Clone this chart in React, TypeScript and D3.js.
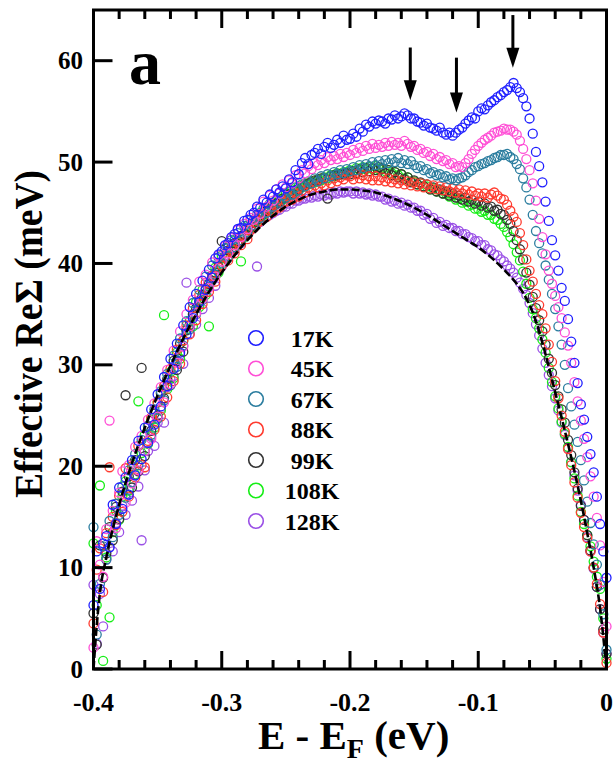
import React from 'react';
import * as d3 from 'd3';

// Energy axis (eV)
const ENERGY = [
  -0.4, -0.3975, -0.395, -0.3925, -0.39, -0.3875, -0.385, -0.3825, -0.38, -0.3775,
  -0.375, -0.3725, -0.37, -0.3675, -0.365, -0.3625, -0.36, -0.3575, -0.355, -0.3525,
  -0.35, -0.3475, -0.345, -0.3425, -0.34, -0.3375, -0.335, -0.3325, -0.33, -0.3275,
  -0.325, -0.3225, -0.32, -0.3175, -0.315, -0.3125, -0.31, -0.3075, -0.305, -0.3025,
  -0.3, -0.2975, -0.295, -0.2925, -0.29, -0.2875, -0.285, -0.2825, -0.28, -0.2775,
  -0.275, -0.2725, -0.27, -0.2675, -0.265, -0.2625, -0.26, -0.2575, -0.255, -0.2525,
  -0.25, -0.2475, -0.245, -0.2425, -0.24, -0.2375, -0.235, -0.2325, -0.23, -0.2275,
  -0.225, -0.2225, -0.22, -0.2175, -0.215, -0.2125, -0.21, -0.2075, -0.205, -0.2025,
  -0.2, -0.1975, -0.195, -0.1925, -0.19, -0.1875, -0.185, -0.1825, -0.18, -0.1775,
  -0.175, -0.1725, -0.17, -0.1675, -0.165, -0.1625, -0.16, -0.1575, -0.155, -0.1525,
  -0.15, -0.1475, -0.145, -0.1425, -0.14, -0.1375, -0.135, -0.1325, -0.13, -0.1275,
  -0.125, -0.1225, -0.12, -0.1175, -0.115, -0.1125, -0.11, -0.1075, -0.105, -0.1025,
  -0.1, -0.0975, -0.095, -0.0925, -0.09, -0.0875, -0.085, -0.0825, -0.08, -0.0775,
  -0.075, -0.0725, -0.07, -0.0675, -0.065, -0.0625, -0.06, -0.0575, -0.055, -0.0525,
  -0.05, -0.0475, -0.045, -0.0425, -0.04, -0.0375, -0.035, -0.0325, -0.03, -0.0275,
  -0.025, -0.0225, -0.02, -0.0175, -0.015, -0.0125, -0.01, -0.0075, -0.005, -0.0025,
  0,
];

// Effective ReΣ (meV) per temperature
const T17K = [
  6.3, 11.6, 7.9, 12.4, 13.1, 12.0, 16.2, 14.3, 17.9, 15.8,
  18.9, 17.2, 20.6, 19.1, 22.5, 20.7, 23.8, 22.3, 25.6, 24.1,
  27.1, 25.9, 28.8, 27.9, 30.6, 29.6, 32.1, 31.2, 33.9, 33.0,
  35.7, 34.6, 37.0, 36.2, 38.3, 37.4, 39.4, 38.6, 40.5, 40.9,
  41.2, 41.8, 42.0, 42.6, 42.9, 43.4, 43.5, 44.2, 44.3, 44.8,
  45.0, 45.6, 45.5, 46.3, 46.0, 46.8, 46.6, 47.3, 47.0, 47.6,
  47.4, 48.3, 48.0, 49.2, 48.8, 49.9, 50.4, 49.8, 50.7, 50.9,
  51.3, 50.8, 51.5, 51.9, 51.4, 51.7, 52.2, 51.9, 52.6, 52.2,
  52.3, 52.8, 52.5, 53.3, 53.0, 53.7, 53.5, 54.0, 53.8, 54.1,
  54.0, 53.8, 54.3, 54.2, 54.6, 54.3, 54.5, 54.8, 54.6, 54.3,
  54.3, 54.0, 53.9, 53.6, 53.8, 53.4, 53.3, 53.1, 53.4, 52.9,
  52.7, 52.9, 52.6, 52.9, 53.2, 53.4, 53.8, 54.1, 54.4, 54.3,
  55.0, 55.3, 55.2, 55.6, 55.9, 56.1, 56.4, 56.6, 56.9, 57.1,
  57.4, 57.8, 57.3, 56.9, 56.3, 55.5, 54.3, 52.8, 51.0, 49.6,
  48.0, 46.1, 44.2, 42.3, 40.8, 39.3, 37.6, 36.3, 34.5, 32.3,
  30.2, 28.2, 26.1, 24.6, 22.9, 21.2, 19.4, 17.0, 14.3, 11.6,
  9.0,
];
const T45K = [
  2.1, 12.6, 10.3, 9.1, 13.8, 24.5, 15.6, 13.9, 17.4, 19.5,
  16.4, 20.1, 18.3, 21.9, 19.6, 23.0, 21.5, 24.6, 22.7, 26.2,
  24.9, 27.8, 26.3, 29.5, 28.1, 31.4, 30.2, 33.3, 31.8, 35.0,
  33.8, 36.4, 35.1, 38.2, 36.5, 38.9, 37.6, 40.1, 38.7, 40.8,
  40.2, 41.7, 41.0, 42.5, 41.8, 43.3, 42.6, 43.9, 43.4, 44.5,
  44.3, 45.4, 44.9, 46.1, 45.6, 46.7, 46.2, 47.3, 46.9, 47.8,
  47.5, 48.2, 47.9, 48.7, 48.4, 49.2, 48.9, 49.6, 49.3, 49.9,
  49.7, 50.2, 49.9, 50.5, 50.2, 50.6, 50.3, 50.8, 50.5, 50.9,
  50.7, 51.2, 50.9, 51.4, 51.1, 51.6, 51.3, 51.8, 51.4, 51.7,
  51.5, 51.9, 51.6, 52.0, 51.7, 51.9, 51.6, 52.1, 51.8, 51.5,
  51.6, 51.2, 51.3, 50.9, 51.0, 50.6, 50.8, 50.3, 50.5, 50.1,
  50.2, 49.8, 49.9, 49.5, 49.6, 49.5, 49.9, 50.3, 50.8, 51.2,
  51.6, 51.9, 52.2, 52.4, 52.6, 52.9, 53.0, 53.1, 53.3, 53.2,
  53.2, 53.0, 52.7, 52.1, 51.3, 50.3, 49.2, 47.9, 46.2, 44.4,
  42.6, 40.9, 39.3, 38.0, 36.8, 35.7, 34.6, 33.2, 31.9, 30.2,
  28.3, 26.4, 24.5, 22.7, 20.9, 19.0, 17.0, 14.9, 12.2, 8.6,
  4.2,
];
const T67K = [
  14.0, 3.4, 8.4, 12.1, 10.8, 14.6, 13.0, 16.3, 15.2, 18.0,
  16.9, 19.6, 18.4, 21.2, 20.1, 22.6, 21.5, 24.0, 23.1, 25.6,
  24.7, 27.4, 26.5, 29.1, 28.0, 30.9, 29.8, 32.6, 31.9, 34.3,
  33.5, 36.1, 35.0, 37.4, 36.4, 38.7, 37.7, 39.8, 38.9, 40.6,
  40.0, 41.5, 40.7, 42.3, 41.6, 43.0, 42.3, 43.7, 43.1, 44.3,
  43.8, 44.8, 44.5, 45.4, 45.0, 45.9, 45.6, 46.3, 46.0, 46.7,
  46.5, 47.1, 46.8, 47.5, 47.2, 47.8, 47.6, 48.1, 47.9, 48.4,
  48.1, 48.6, 48.4, 48.8, 48.6, 49.0, 48.8, 49.2, 48.9, 49.3,
  49.1, 49.5, 49.2, 49.7, 49.4, 49.8, 49.6, 50.0, 49.7, 50.1,
  49.8, 50.2, 49.9, 50.3, 50.0, 50.4, 49.9, 50.2, 49.8, 50.1,
  49.7, 49.4, 49.6, 49.2, 49.3, 48.9, 49.0, 48.7, 48.8, 48.5,
  48.6, 48.3, 48.4, 48.2, 48.4, 48.5, 48.7, 49.0, 49.2, 49.5,
  49.6, 49.8, 49.9, 50.1, 50.2, 50.4, 50.5, 50.7, 50.7, 50.8,
  50.5, 50.3, 49.8, 49.3, 48.4, 47.5, 46.3, 44.8, 43.2, 42.0,
  41.0, 39.8, 38.4, 37.0, 35.5, 33.8, 32.0, 30.0, 27.7, 25.9,
  24.1, 22.4, 20.6, 18.6, 16.5, 14.4, 12.3, 10.3, 8.3, 5.4,
  1.9,
];
const T88K = [
  4.5, 9.8, 11.9, 7.6, 13.4, 19.9, 15.0, 14.2, 17.1, 15.5,
  19.8, 17.0, 20.0, 18.9, 22.0, 20.1, 19.9, 22.5, 24.8, 23.6,
  26.3, 24.9, 27.9, 26.8, 29.6, 28.4, 31.5, 30.1, 32.4, 33.9,
  33.0, 35.6, 34.4, 36.9, 36.0, 38.1, 37.2, 38.8, 38.2, 39.6,
  39.8, 40.6, 40.3, 41.4, 41.0, 42.1, 41.8, 42.7, 42.4, 43.3,
  43.5, 43.9, 44.2, 44.6, 44.6, 45.2, 45.1, 45.6, 45.5, 46.0,
  46.1, 46.5, 46.3, 46.9, 46.6, 47.2, 47.0, 47.5, 47.2, 47.7,
  47.5, 47.9, 47.7, 48.2, 47.9, 48.4, 48.1, 48.5, 48.3, 48.7,
  48.6, 48.3, 48.8, 48.4, 48.7, 48.3, 48.6, 48.2, 48.6, 48.2,
  48.5, 48.1, 48.4, 48.0, 48.3, 47.9, 48.2, 47.8, 48.1, 47.7,
  48.0, 47.6, 47.9, 47.5, 47.8, 47.4, 47.7, 47.3, 47.6, 47.2,
  47.5, 47.1, 47.4, 47.0, 47.3, 46.9, 47.2, 46.8, 47.1, 46.7,
  46.9, 46.6, 46.9, 46.5, 46.8, 47.0, 46.7, 46.4, 46.3, 45.8,
  45.2, 44.6, 44.1, 43.0, 41.8, 40.4, 39.3, 38.2, 37.0, 35.9,
  35.0, 33.6, 32.0, 30.3, 28.4, 26.7, 25.0, 23.4, 21.7, 20.1,
  18.4, 16.9, 15.4, 14.0, 12.9, 11.6, 10.0, 8.4, 6.4, 3.6,
  0.6,
];
const T99K = [
  5.5, 2.4, 12.2, 9.0, 11.4, 14.0, 12.7, 16.0, 14.8, 17.5,
  27.0, 19.0, 17.9, 20.6, 19.5, 29.7, 21.0, 23.9, 23.5, 25.2,
  25.0, 27.2, 26.7, 28.6, 28.0, 30.4, 29.5, 32.1, 31.3, 33.4,
  33.9, 35.0, 35.6, 36.3, 36.9, 37.5, 38.0, 38.8, 39.1, 39.7,
  42.2, 40.6, 41.3, 41.4, 42.0, 42.2, 42.7, 42.9, 43.4, 43.6,
  44.0, 44.3, 44.6, 44.9, 45.2, 45.4, 45.7, 45.9, 46.1, 46.4,
  46.5, 46.8, 46.9, 47.2, 47.3, 47.6, 47.7, 47.9, 48.0, 48.2,
  48.2, 48.4, 48.4, 46.4, 48.6, 48.7, 48.7, 48.8, 48.8, 48.9,
  48.8, 49.1, 48.9, 49.3, 49.0, 49.4, 49.1, 49.4, 49.2, 49.5,
  49.3, 48.9, 49.2, 48.7, 49.0, 48.5, 48.8, 48.3, 48.5, 48.0,
  48.2, 47.8, 48.0, 47.6, 47.8, 47.3, 47.5, 47.1, 47.3, 46.9,
  47.1, 46.7, 46.9, 46.5, 46.7, 46.3, 46.5, 46.1, 46.3, 45.9,
  46.1, 45.7, 45.9, 45.5, 45.6, 45.2, 45.3, 44.9, 44.8, 44.3,
  43.9, 43.2, 42.3, 41.4, 40.4, 39.1, 37.9, 36.7, 35.6, 34.4,
  33.3, 32.0, 30.6, 29.2, 28.0, 26.9, 25.6, 24.3, 22.6, 21.1,
  19.4, 17.8, 16.1, 14.7, 13.2, 11.7, 10.0, 8.1, 5.9, 3.9,
  1.5,
];
const T108K = [
  12.4, 6.3, 18.1, 0.8, 11.0, 5.1, 13.5, 15.6, 14.7, 17.0,
  18.5, 17.6, 20.2, 19.2, 26.4, 21.3, 23.1, 22.2, 24.6, 23.8,
  26.3, 25.5, 34.9, 27.6, 29.3, 28.7, 31.2, 30.6, 32.4, 33.5,
  34.3, 33.8, 36.2, 35.7, 37.4, 36.9, 33.8, 38.6, 39.6, 39.1,
  40.8, 40.5, 41.6, 41.2, 42.3, 41.9, 40.2, 42.6, 43.7, 43.5,
  44.3, 44.2, 45.0, 44.8, 45.5, 45.3, 46.0, 45.9, 46.4, 46.3,
  46.9, 46.8, 47.3, 47.1, 47.6, 47.5, 47.9, 47.8, 48.1, 48.0,
  48.3, 48.2, 48.5, 48.4, 48.7, 48.6, 48.9, 48.8, 49.0, 49.0,
  49.2, 49.1, 49.4, 49.2, 49.5, 49.3, 49.5, 49.3, 49.6, 49.3,
  49.4, 49.1, 49.2, 48.9, 49.0, 48.7, 48.8, 48.4, 48.5, 48.1,
  48.1, 47.8, 47.9, 47.6, 47.6, 47.3, 47.4, 47.1, 47.2, 46.9,
  46.9, 46.6, 46.7, 46.3, 46.4, 46.0, 46.1, 45.7, 45.8, 45.4,
  45.4, 45.1, 45.2, 44.8, 44.8, 44.4, 44.3, 43.9, 43.6, 43.1,
  42.6, 41.9, 41.1, 40.3, 39.2, 38.0, 36.6, 35.5, 34.6, 33.6,
  32.5, 31.2, 29.7, 28.3, 26.9, 25.7, 24.4, 23.2, 21.9, 20.4,
  18.8, 17.1, 15.5, 14.3, 13.2, 12.1, 10.6, 9.1, 7.9, 5.0,
  1.0,
];
const T128K = [
  8.3, 2.5, 7.4, 4.2, 10.8, 12.0, 11.6, 14.4, 13.5, 16.1,
  15.2, 17.7, 16.6, 19.1, 18.0, 12.7, 19.6, 21.5, 22.9, 22.0,
  24.3, 25.7, 24.3, 27.8, 28.6, 28.9, 30.4, 31.0, 30.1, 38.1,
  33.1, 34.8, 34.0, 36.0, 35.5, 37.1, 36.6, 38.3, 37.8, 39.4,
  39.7, 40.8, 40.6, 41.5, 41.3, 42.2, 42.0, 42.7, 42.9, 43.3,
  43.5, 39.7, 44.1, 44.4, 44.6, 44.8, 45.0, 45.2, 45.3, 45.6,
  45.6, 45.9, 45.9, 46.2, 46.2, 46.4, 46.4, 46.6, 46.5, 46.7,
  46.6, 46.8, 46.7, 46.9, 46.8, 47.0, 46.9, 47.1, 47.0, 47.1,
  47.1, 46.9, 47.1, 46.9, 47.0, 46.8, 46.9, 46.7, 46.8, 46.6,
  46.6, 46.3, 46.4, 46.1, 46.2, 45.9, 46.0, 45.7, 45.8, 45.5,
  45.5, 45.2, 45.2, 44.8, 44.9, 44.4, 44.5, 44.0, 44.1, 43.7,
  43.8, 43.5, 43.5, 43.2, 43.2, 42.9, 42.9, 42.6, 42.5, 42.2,
  42.2, 41.8, 41.8, 41.4, 41.3, 40.9, 40.8, 40.4, 40.2, 39.8,
  39.5, 39.1, 38.6, 38.1, 37.5, 36.9, 36.1, 35.1, 34.0, 32.9,
  31.6, 30.2, 29.0, 27.9, 26.7, 25.5, 24.3, 23.1, 21.8, 20.4,
  19.1, 17.6, 16.2, 14.7, 13.0, 11.6, 9.9, 8.1, 5.9, 3.6,
  1.5,
];

const SERIES_LABELS = ['17K', '45K', '67K', '88K', '99K', '108K', '128K'];
const SERIES_VALUES = [T17K, T45K, T67K, T88K, T99K, T108K, T128K];
const SERIES_COLORS = ['#1f1fff', '#ff4fd6', '#2b7d9f', '#ff3b2f', '#333333', '#16ee16', '#9a50e6'];

// Black dashed fit curve
const FIT_E = [
  -0.4, -0.398, -0.395, -0.39, -0.385, -0.38, -0.37, -0.36, -0.35, -0.34, -0.33, -0.32, -0.31,
  -0.30, -0.29, -0.28, -0.27, -0.26, -0.25, -0.24, -0.23, -0.22, -0.21, -0.20, -0.19, -0.18,
  -0.17, -0.16, -0.15, -0.14, -0.13, -0.12, -0.11, -0.10, -0.09, -0.08, -0.07, -0.065, -0.06,
  -0.055, -0.05, -0.045, -0.04, -0.035, -0.03, -0.025, -0.02, -0.015, -0.01, -0.005, 0,
];
const FIT_V = [
  0, 3.5, 7.5, 11.0, 13.8, 16.2, 20.3, 23.8, 27.0, 29.9, 32.6, 35.0, 37.2,
  39.1, 40.8, 42.3, 43.6, 44.7, 45.6, 46.3, 46.8, 47.1, 47.3, 47.3, 47.2, 47.0,
  46.6, 46.1, 45.5, 44.8, 44.0, 43.2, 42.4, 41.6, 40.6, 39.4, 38.0, 37.1, 35.9,
  34.3, 32.2, 29.8, 27.3, 24.8, 22.2, 19.5, 16.6, 13.4, 10.0, 6.0, 0,
];

const X_TICKS = [-0.4, -0.3, -0.2, -0.1, 0];
const X_TICK_LABELS = ['-0.4', '-0.3', '-0.2', '-0.1', '0'];
const Y_TICKS = [0, 10, 20, 30, 40, 50, 60];
const Y_TICK_LABELS = ['0', '10', '20', '30', '40', '50', '60'];

// Arrows marking kinks
const ARROW_E = [-0.153, -0.117, -0.073];
const ARROW_TOP = [61.3, 60.3, 64.5];
const ARROW_TIP = [56.1, 54.9, 59.3];

const FONT = "'Liberation Serif', 'Times New Roman', Times, serif";

export default function App() {
  const W = 615;
  const H = 765;
  const left = 93.5, right = 606.5, top = 10, bottom = 669;
  const x = d3.scaleLinear().domain([-0.4, 0]).range([left, right]);
  const y = d3.scaleLinear().domain([0, 65]).range([bottom, top]);

  const minorTicks = x.ticks(20);
  const fitLine = d3
    .line<number>()
    .x((_, i) => x(FIT_E[i]))
    .y((d) => y(d))
    .curve(d3.curveMonotoneX)(FIT_V) || '';

  const order = [6, 5, 4, 3, 2, 1, 0];

  return (
    <svg
      width={W}
      height={H}
      viewBox={`0 0 ${W} ${H}`}
      style={{ position: 'absolute', left: 0, top: 0, background: '#fff' }}
      fontFamily={FONT}
      fontWeight="bold"
    >
      <rect x={0} y={0} width={W} height={H} fill="#fff" />

      {/* data */}
      {order.map((si) => (
        <g key={SERIES_LABELS[si]}>
          {SERIES_VALUES[si].map((v, i) => (
            <circle
              key={i}
              cx={x(ENERGY[i])}
              cy={y(v)}
              r={4.5}
              fill="none"
              stroke={SERIES_COLORS[si]}
              strokeWidth={1.3}
            />
          ))}
        </g>
      ))}

      {/* fit */}
      <path d={fitLine} fill="none" stroke="#000" strokeWidth={2.6} strokeDasharray="8,3" />

      {/* ticks */}
      {minorTicks.map((t, i) => {
        const major = X_TICKS.some((m) => Math.abs(m - t) < 1e-9);
        const len = major ? 18 : 9;
        return (
          <g key={'mt' + i}>
            <line x1={x(t)} x2={x(t)} y1={top} y2={top + len} stroke="#000" strokeWidth={3} />
            <line x1={x(t)} x2={x(t)} y1={bottom} y2={bottom - len} stroke="#000" strokeWidth={3} />
          </g>
        );
      })}
      {Y_TICKS.map((t) => (
        <line key={'yt' + t} x1={left} x2={left + 19} y1={y(t)} y2={y(t)} stroke="#000" strokeWidth={3} />
      ))}

      {/* frame */}
      <rect x={left} y={top} width={right - left} height={bottom - top} fill="none" stroke="#000" strokeWidth={3} />

      {/* tick labels */}
      {Y_TICKS.map((t, i) => (
        <text key={'yl' + t} x={83} y={y(t) + 8.5} textAnchor="end" fontSize={25}>
          {Y_TICK_LABELS[i]}
        </text>
      ))}
      {X_TICKS.map((t, i) => (
        <text key={'xl' + t} x={x(t)} y={711} textAnchor="middle" fontSize={26}>
          {X_TICK_LABELS[i]}
        </text>
      ))}

      {/* axis titles */}
      <text x={258} y={749} fontSize={41}>
        E - E<tspan fontSize={28} dy={9}>F</tspan>
        <tspan dy={-9}> (eV)</tspan>
      </text>
      <text
        transform="translate(42,498) rotate(-90)"
        textAnchor="start"
        fontSize={39}
        textLength={328}
        lengthAdjust="spacingAndGlyphs"
      >
        Effective ReΣ (meV)
      </text>

      {/* panel letter */}
      <text x={129} y={84} fontSize={64}>a</text>

      {/* arrows */}
      {ARROW_E.map((e, i) => {
        const ax = x(e);
        const yt = y(ARROW_TOP[i]);
        const yp = y(ARROW_TIP[i]);
        return (
          <g key={'ar' + i}>
            <line x1={ax} x2={ax} y1={yt} y2={yp - 16} stroke="#000" strokeWidth={3} />
            <path d={`M${ax - 6.5},${yp - 20} L${ax + 6.5},${yp - 20} L${ax},${yp} Z`} fill="#000" />
          </g>
        );
      })}

      {/* legend */}
      {SERIES_LABELS.map((lab, i) => {
        const cy = 338 + i * 30.5;
        return (
          <g key={'lg' + lab}>
            <circle cx={256} cy={cy} r={7.3} fill="none" stroke={SERIES_COLORS[i]} strokeWidth={1.6} />
            <text x={312} y={cy + 8.5} textAnchor="middle" fontSize={24}>
              {lab}
            </text>
          </g>
        );
      })}
    </svg>
  );
}
